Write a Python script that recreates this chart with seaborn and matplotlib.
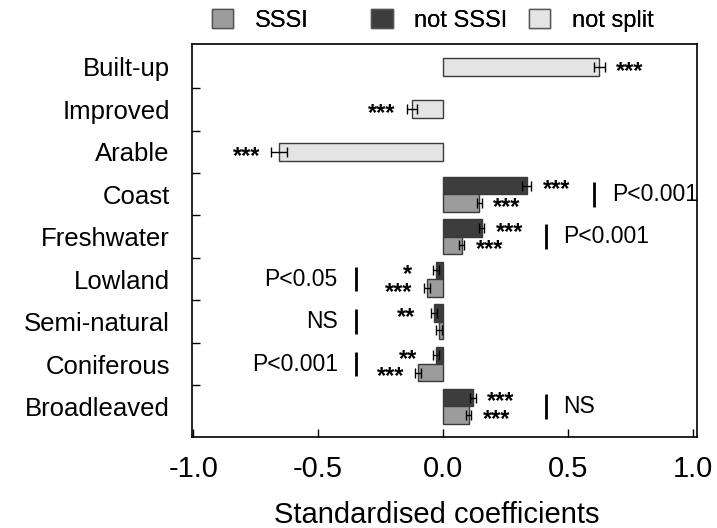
import numpy as np
import pandas as pd
import matplotlib
matplotlib.use("Agg")
import matplotlib.pyplot as plt
from matplotlib.patches import Patch
import seaborn as sns

sns.set_theme(style="white")
plt.rcParams["font.family"] = ["Liberation Sans", "DejaVu Sans"]
plt.rcParams.update({"text.color": "black", "axes.labelcolor": "black",
                     "xtick.color": "black", "ytick.color": "black"})

# Land-cover predictors, top to bottom
categories = ["Built-up", "Improved", "Arable", "Coast", "Freshwater",
              "Lowland", "Semi-natural", "Coniferous", "Broadleaved"]

# Predictors fitted without the SSSI split
nosplit_cats = ["Built-up", "Improved", "Arable"]
nosplit_coef = [0.625, -0.125, -0.655]
nosplit_se = [0.022, 0.02, 0.032]
nosplit_sig = ["***", "***", "***"]

# Predictors split by SSSI status
split_cats = ["Coast", "Freshwater", "Lowland", "Semi-natural",
              "Coniferous", "Broadleaved"]
notsssi_coef = [0.335, 0.155, -0.028, -0.037, -0.03, 0.12]
notsssi_se = [0.018, 0.01, 0.013, 0.013, 0.012, 0.011]
notsssi_sig = ["***", "***", "*", "**", "**", "***"]
sssi_coef = [0.145, 0.075, -0.065, -0.018, -0.1, 0.103]
sssi_se = [0.011, 0.01, 0.013, 0.012, 0.011, 0.01]
sssi_sig = ["***", "***", "***", "", "***", "***"]

# Test of SSSI vs not-SSSI difference
diff_test = ["P<0.001", "P<0.001", "P<0.05", "NS", "P<0.001", "NS"]

# Layout: x position of the bracket line for each difference test
diff_line_x = [0.606, 0.41, -0.35, -0.35, -0.35, 0.41]

col_sssi = "#9c9c9c"
col_not = "#3d3d3d"
col_nosplit = "#e4e4e4"
edge = "#3a3a3a"

split_df = pd.DataFrame({
    "category": split_cats * 2,
    "group": ["not SSSI"] * len(split_cats) + ["SSSI"] * len(split_cats),
    "coef": notsssi_coef + sssi_coef,
})
nosplit_df = pd.DataFrame({"category": nosplit_cats, "coef": nosplit_coef})

fig = plt.figure(figsize=(7.17, 5.28), dpi=100)
ax = fig.add_axes([0.2678, 0.1723, 0.7042, 0.7444])

sns.barplot(data=split_df, y="category", x="coef", hue="group",
            hue_order=["not SSSI", "SSSI"], order=categories, orient="h",
            palette={"not SSSI": col_not, "SSSI": col_sssi},
            width=0.82, dodge=True, errorbar=None, legend=False,
            edgecolor=edge, linewidth=1.0, saturation=1, ax=ax)
sns.barplot(data=nosplit_df, y="category", x="coef", order=categories,
            orient="h", color=col_nosplit, width=0.42, errorbar=None,
            edgecolor=edge, linewidth=1.0, saturation=1, ax=ax)

star_font = dict(fontsize=17, fontweight="bold", color="black",
                 ha="center", va="center")
star_off = 0.1


def annotate_bars(container, coefs, ses, sigs):
    for bar, c, s, sig in zip(container, coefs, ses, sigs):
        yc = bar.get_y() + bar.get_height() / 2
        ax.errorbar(c, yc, xerr=s, fmt="none", ecolor="black",
                    elinewidth=1.0, capsize=3.5, capthick=1.0, zorder=4)
        if sig:
            sign = 1 if c >= 0 else -1
            ax.text(c + sign * (s + star_off), yc + 0.1, sig, **star_font)


# Containers: hue levels first (not SSSI, SSSI), then the unsplit series
cont_not, cont_sssi, cont_nosplit = ax.containers[:3]


def bars_for(container, cats):
    out = []
    for cat in cats:
        idx = categories.index(cat)
        for b in container:
            yc = b.get_y() + b.get_height() / 2
            w = b.get_width()
            if round(yc) == idx and w != 0 and not np.isnan(w):
                out.append(b)
                break
    return out


annotate_bars(bars_for(cont_not, split_cats), notsssi_coef, notsssi_se, notsssi_sig)
annotate_bars(bars_for(cont_sssi, split_cats), sssi_coef, sssi_se, sssi_sig)
annotate_bars(bars_for(cont_nosplit, nosplit_cats), nosplit_coef, nosplit_se, nosplit_sig)

# Difference-test brackets
for cat, lab, lx in zip(split_cats, diff_test, diff_line_x):
    yi = categories.index(cat)
    ax.plot([lx, lx], [yi - 0.29, yi + 0.29], color="black", lw=2.0,
            solid_capstyle="butt", zorder=4)
    if lx > 0:
        ax.text(lx + 0.072, yi, lab, fontsize=16.5, ha="left", va="center")
    else:
        ax.text(lx - 0.072, yi, lab, fontsize=16.5, ha="right", va="center")

ax.set_xlim(-1.005, 1.016)
ax.set_ylim(8.72, -0.54)
ax.set_xticks([-1.0, -0.5, 0.0, 0.5, 1.0])
ax.set_xticklabels(["-1.0", "-0.5", "0.0", "0.5", "1.0"])
ax.set_yticks(range(len(categories)))
ax.set_yticklabels(categories)
ax.set_yticks(np.arange(0.5, len(categories) - 1, 1.0), minor=True)
ax.tick_params(axis="x", direction="in", length=6, width=1.0, bottom=True,
               labelsize=21, pad=13)
ax.tick_params(axis="y", which="major", length=0, labelsize=18.5, pad=16)
ax.tick_params(axis="y", which="minor", direction="in", length=6,
               width=1.0, left=True)
ax.set_xlabel("Standardised coefficients", fontsize=21)
ax.xaxis.set_label_coords(0.484, -0.162)
ax.set_ylabel("")
for sp in ax.spines.values():
    sp.set_visible(True)
    sp.set_color("black")
    sp.set_linewidth(1.2)

# Legend entries in evenly spaced columns above the plot
entries = [("SSSI", col_sssi), ("not SSSI", col_not), ("not split", col_nosplit)]
col_x = [0.296, 0.518, 0.738]
for (lab, col), xpos in zip(entries, col_x):
    h = Patch(facecolor=col, edgecolor="#555555", linewidth=1.0)
    leg = fig.legend([h], [lab], loc="center left", bbox_to_anchor=(xpos, 0.962),
                     frameon=False, fontsize=17, handlelength=0.9,
                     handleheight=0.9, handletextpad=0.9, borderpad=0,
                     borderaxespad=0)
    fig.add_artist(leg)

fig.savefig("out.png", dpi=100)
